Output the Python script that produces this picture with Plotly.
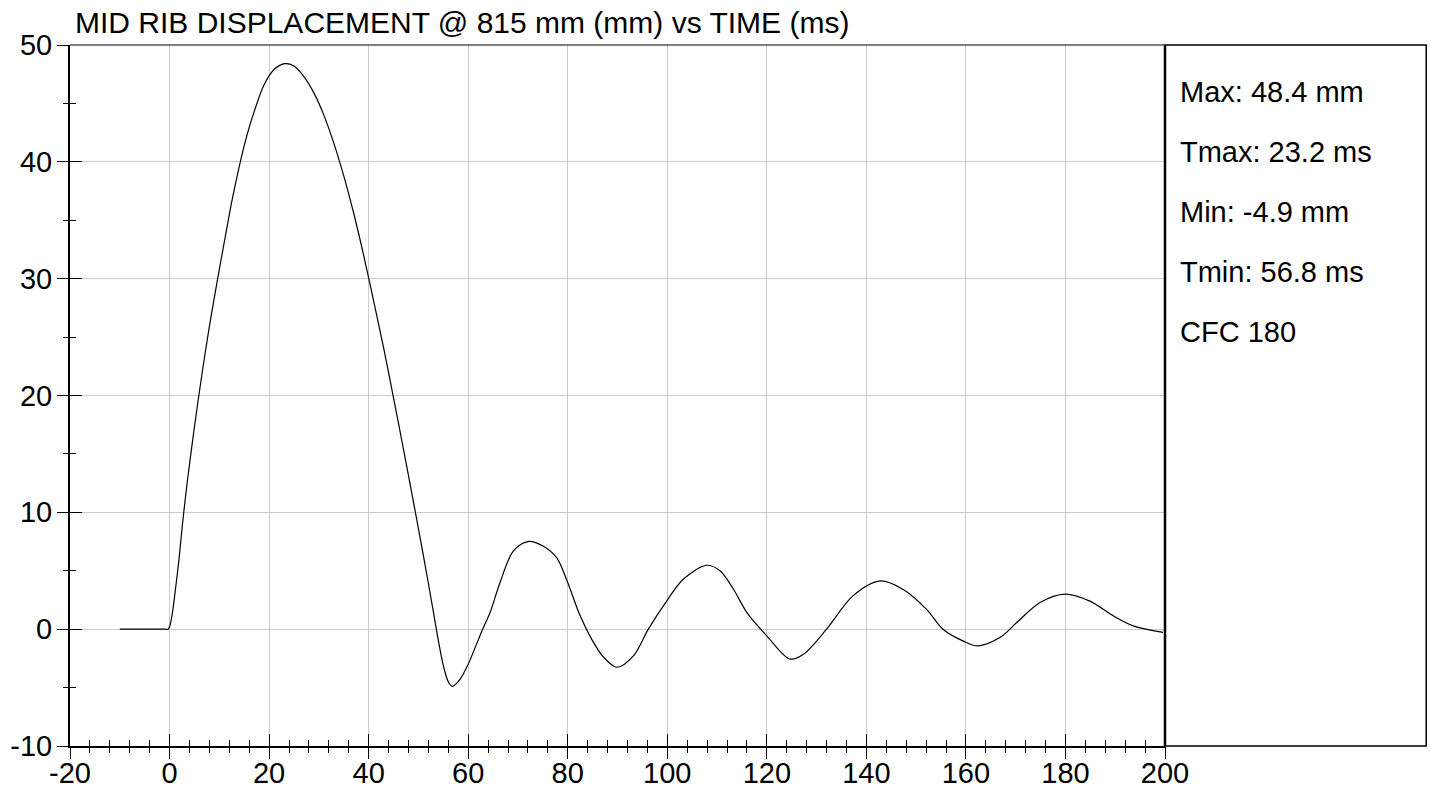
import plotly.graph_objects as go

# ---- data ----
time_ms = [-10, -5, -1.0, -0.3, 0.0, 0.5, 1.1, 1.9, 2.6, 3.5, 5.0, 6.5, 8.0, 9.5, 11.2, 12.6, 14.0,
           15.5, 17.0, 19.0, 21.0, 23.2, 25.0, 27.0, 29.0, 31.0, 33.0, 35.0, 37.0, 39.0, 41.0,
           43.0, 45.0, 47.0, 49.0, 51.0, 53.0, 53.6, 55.0, 56.0, 56.8, 57.5, 58.4, 60.0, 62.9,
           64.4, 66.4, 69.1, 72.0, 75.1, 77.8, 79.8, 82.5, 84.8, 87.2, 89.9, 93.2, 96.2, 99.9,
           103.2, 107.9, 110.6, 113.3, 116.0, 120.0, 124.7, 127.5, 132.0, 137.3, 142.8, 147.4,
           152.1, 155.4, 159.4, 162.4, 166.9, 170.2, 174.9, 179.9, 184.9, 189.6, 193.6, 199.6]
disp_mm = [0.0, 0.0, 0.0, 0.0, 0.2, 1.2, 3.1, 6.0, 9.0, 12.4, 17.3, 21.8, 25.9, 29.6, 33.6, 36.8, 39.6,
           42.2, 44.3, 46.6, 47.9, 48.4, 48.2, 47.3, 45.9, 44.0, 41.6, 38.8, 35.6, 32.0, 28.1,
           24.1, 19.8, 15.4, 10.9, 6.3, 1.5, 0.0, -3.1, -4.5, -4.9, -4.7, -4.27, -3.0, 0.0,
           1.42, 4.0, 6.7, 7.5, 7.1, 6.1, 4.2, 1.14, -0.85, -2.4, -3.26, -2.28, 0.0, 2.42,
           4.27, 5.47, 5.0, 3.42, 1.42, -0.57, -2.56, -2.1, 0.0, 2.85, 4.13, 3.4,
           1.7, 0.0, -1.0, -1.43, -0.7, 0.57, 2.28, 3.0, 2.4, 1.14, 0.28, -0.28]

x_tickvals = [-20, 0, 20, 40, 60, 80, 100, 120, 140, 160, 180, 200]
x_ticktext = ["-20", "0", "20", "40", "60", "80", "100", "120", "140", "160", "180", "200"]
y_tickvals = [-10, 0, 10, 20, 30, 40, 50]
y_ticktext = ["-10", "0", "10", "20", "30", "40", "50"]

stats_labels = ["Max: 48.4 mm", "Tmax: 23.2 ms", "Min: -4.9 mm", "Tmin: 56.8 ms", "CFC 180"]
title_text = "MID RIB DISPLACEMENT @ 815 mm (mm) vs TIME (ms)"

x_range = [-20, 200]
y_range = [-10, 50]

FONT = "Liberation Sans, Arial, sans-serif"
FS = 29

fig = go.Figure()
fig.add_trace(go.Scatter(x=time_ms, y=disp_mm, mode="lines",
                         line=dict(color="black", width=1.2, shape="spline", smoothing=0.9),
                         showlegend=False, hoverinfo="skip"))
# empty trace to create the overlay axes (used for crossing tick marks)
fig.add_trace(go.Scatter(x=[], y=[], xaxis="x2", yaxis="y2", showlegend=False))

common_tick = dict(tickcolor="black", tickwidth=1)
fig.update_layout(
    width=1431, height=797,
    margin=dict(l=70, r=266, t=45, b=51),
    paper_bgcolor="white", plot_bgcolor="white",
    font=dict(family=FONT, size=FS, color="black"),
    title=dict(text=title_text, font=dict(family=FONT, size=FS + 1, color="black"),
               x=75 / 1431, xanchor="left", xref="container",
               y=1 - 22 / 797, yanchor="middle", yref="container"),
    xaxis=dict(range=x_range, tickvals=x_tickvals, ticktext=x_ticktext, automargin=False,
               showgrid=True, gridcolor="#cccccc", gridwidth=1,
               zeroline=False, showline=True, linecolor="black", linewidth=2,
               ticks="inside", ticklen=12, **common_tick,
               minor=dict(dtick=4, tick0=0, ticks="inside", ticklen=6, tickcolor="black", showgrid=False),
               tickfont=dict(size=FS), ticklabelstandoff=0),
    xaxis2=dict(range=x_range, overlaying="x", anchor="y", side="bottom", tickvals=x_tickvals,
                automargin=False, showgrid=False, zeroline=False, showline=False, showticklabels=False,
                ticks="outside", ticklen=12, **common_tick,
                minor=dict(dtick=4, tick0=0, ticks="outside", ticklen=6, tickcolor="black", showgrid=False)),
    yaxis=dict(range=y_range, tickvals=y_tickvals, ticktext=y_ticktext, automargin=False,
               showgrid=True, gridcolor="#cccccc", gridwidth=1,
               zeroline=False, showline=True, linecolor="black", linewidth=2,
               ticks="inside", ticklen=12, **common_tick,
               minor=dict(dtick=5, tick0=0, ticks="inside", ticklen=6, tickcolor="black", showgrid=False),
               tickfont=dict(size=FS), ticklabelstandoff=10),
    yaxis2=dict(range=y_range, overlaying="y", anchor="x", side="left", tickvals=y_tickvals,
                automargin=False, showgrid=False, zeroline=False, showline=False, showticklabels=False,
                ticks="outside", ticklen=12, **common_tick,
                minor=dict(dtick=5, tick0=0, ticks="outside", ticklen=6, tickcolor="black", showgrid=False)),
)

# top border of plot and right-hand statistics panel
fig.add_shape(type="line", xref="paper", yref="paper", x0=0, x1=1, y0=1, y1=1,
              line=dict(color="#555555", width=1.5))
fig.add_shape(type="rect", xref="paper", yref="paper", x0=1, x1=1355 / 1094, y0=0, y1=1,
              line=dict(color="black", width=1.5), fillcolor="rgba(0,0,0,0)")
fig.add_shape(type="line", xref="paper", yref="paper", x0=1, x1=1, y0=0, y1=1,
              line=dict(color="black", width=2.5))

for i, lab in enumerate(stats_labels):
    fig.add_annotation(text=lab, xref="paper", yref="paper",
                       x=(1178 - 70) / 1095, xanchor="left",
                       y=(746 - (92 + 60 * i)) / 701, yanchor="middle",
                       showarrow=False, font=dict(family=FONT, size=FS, color="black"))

fig.write_html("out.html", post_script="document.body.style.margin='0';",
               config={"displayModeBar": False})
